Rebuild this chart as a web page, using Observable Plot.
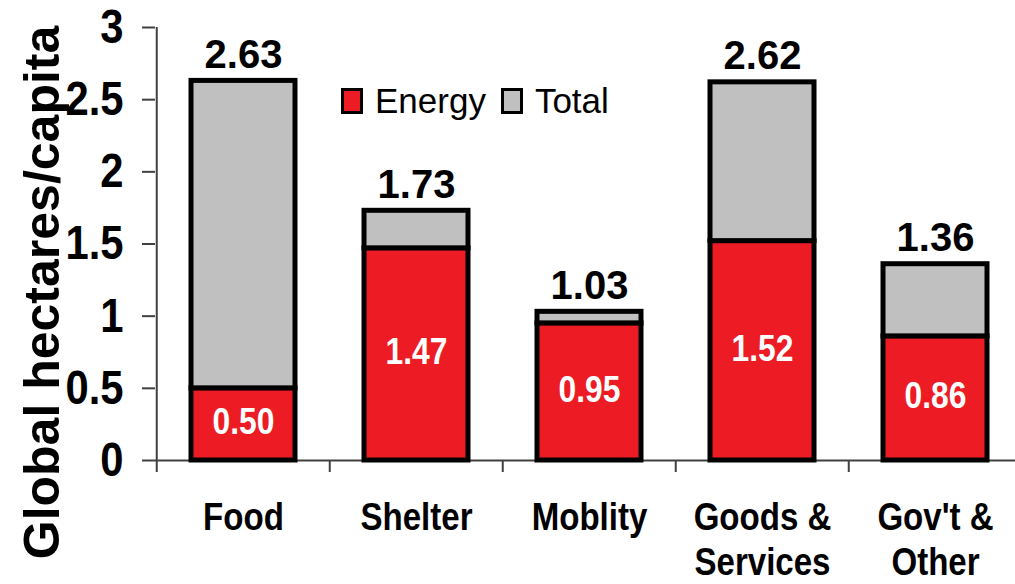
<!DOCTYPE html>
<html><head><meta charset="utf-8">
<script src="https://cdn.jsdelivr.net/npm/d3@7"></script>
<script src="https://cdn.jsdelivr.net/npm/@observablehq/plot@0.6"></script>
<style>
body{margin:0;background:#fff;overflow:hidden;}
#wrap{position:relative;width:1015px;height:584px;overflow:hidden;background:#fff;}
.legend{position:absolute;left:341px;top:81px;height:40px;display:flex;align-items:center;font-family:"Liberation Sans",Arial,sans-serif;font-size:35px;line-height:40px;color:#000;}
.sw{width:16px;height:20px;border:3px solid #000;display:inline-block;margin-right:12px;box-sizing:content-box;}
</style></head><body><div id="wrap"></div>
<script>
const categories = ["Food", "Shelter", "Moblity", "Goods &\nServices", "Gov't &\nOther"];
const energy = [0.50, 1.47, 0.95, 1.52, 0.86];
const total = [2.63, 1.73, 1.03, 2.62, 1.36];
const yTicks = [0, 0.5, 1, 1.5, 2, 2.5, 3];
const seriesNames = ["Energy", "Total"];
const seriesColors = ["#ED1C24", "#C0C0C0"];
const yTitle = "Global hectares/capita";

const rows = categories.flatMap((c, i) => [
  {cat: c, series: "Energy", lo: 0, hi: energy[i]},
  {cat: c, series: "Total", lo: energy[i], hi: total[i]}
]);

const W = 1015, H = 584, mL = 155, mR = -7.5, mT = 27, mB = 124;
const step = (W - mL - mR) / categories.length;
const font = "Liberation Sans, Arial, sans-serif";

const plot = Plot.plot({
  width: W, height: H,
  marginLeft: mL, marginRight: mR, marginTop: mT, marginBottom: mB,
  style: {fontFamily: font, background: "#fff", color: "#000"},
  x: {domain: categories, paddingInner: 0.4, paddingOuter: 0.2, axis: null},
  y: {domain: [0, 3], axis: null},
  color: {domain: seriesNames, range: seriesColors},
  marks: [
    Plot.ruleY([0], {stroke: "#404040", strokeWidth: 2}),
    Plot.ruleX(categories.slice(0, 1), {x: d => d, dx: -step / 2, stroke: "#404040", strokeWidth: 2, insetBottom: -12}),
    Plot.ruleX(categories.slice(1), {x: d => d, dx: -step / 2, stroke: "#404040", strokeWidth: 2, insetTop: H - mT - mB, insetBottom: -12}),
    Plot.barY(rows, {x: "cat", y1: "lo", y2: "hi", fill: "series", stroke: "#000", strokeWidth: 5}),
    Plot.axisY({ticks: yTicks, tickSize: 13, tickPadding: 19, fontSize: 48, fontWeight: "bold", color: "#000", stroke: "#404040", strokeWidth: 2, label: null, tickFormat: d => String(d)}),
    Plot.text(categories, {x: d => d, frameAnchor: "bottom", lineAnchor: "top", dy: 38, lineHeight: 1.17, fontSize: 38, fontWeight: "bold", fill: "#000"}),
    Plot.text(categories, {x: d => d, y: (d, i) => total[i], text: (d, i) => total[i].toFixed(2), lineAnchor: "bottom", dy: -13, fontSize: 40, fontWeight: "bold", fill: "#000"}),
    Plot.text(categories, {x: d => d, y: (d, i) => energy[i] / 2, text: (d, i) => energy[i].toFixed(2), lineAnchor: "middle", dy: -2, fontSize: 37, fontWeight: "bold", fill: "#fff"}),
    Plot.text([yTitle], {frameAnchor: "left", textAnchor: "middle", rotate: -90, lineAnchor: "bottom", dx: -97, dy: 48.5, fontSize: 50, fontWeight: "bold", fill: "#000"})
  ]
});

function squish(t, s) {
  const tr = t.getAttribute("transform");
  if (tr !== null) {
    t.setAttribute("transform", tr + ` scale(${s},1)`);
  } else {
    const x = +t.getAttribute("x") || 0, y = +t.getAttribute("y") || 0;
    t.removeAttribute("x"); t.removeAttribute("y");
    t.setAttribute("transform", `translate(${x},${y}) scale(${s},1)`);
  }
}
plot.querySelectorAll('g[font-size="48"] text').forEach(t => squish(t, 0.87));
plot.querySelectorAll('g[font-size="38"] text').forEach(t => squish(t, 0.87));
plot.querySelectorAll('g[font-size="37"] text').forEach(t => squish(t, 0.86));

const wrap = document.getElementById("wrap");
wrap.appendChild(plot);

const legend = document.createElement("div");
legend.className = "legend";
seriesNames.forEach((name, i) => {
  const sw = document.createElement("span");
  sw.className = "sw";
  sw.style.background = seriesColors[i];
  const lab = document.createElement("span");
  lab.textContent = name;
  lab.style.marginRight = i === 0 ? "15px" : "0";
  legend.appendChild(sw);
  legend.appendChild(lab);
});
wrap.appendChild(legend);
</script></body></html>
